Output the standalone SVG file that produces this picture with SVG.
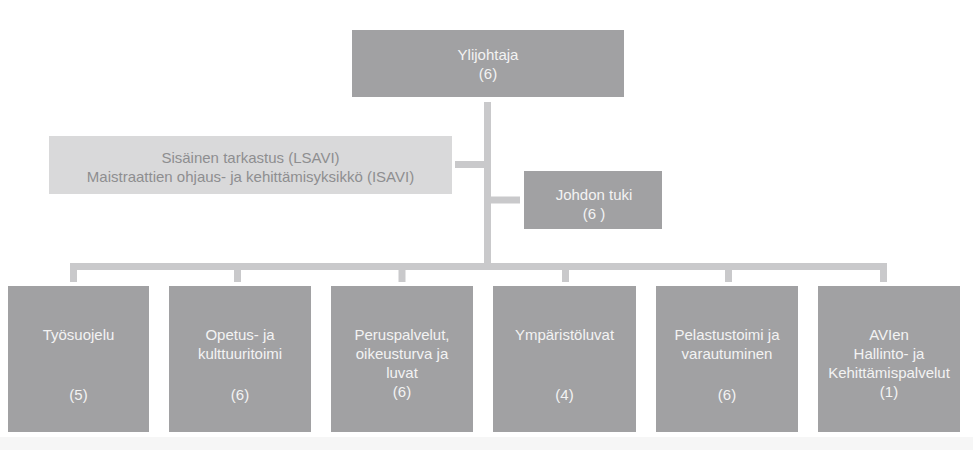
<svg xmlns="http://www.w3.org/2000/svg" width="973" height="450" viewBox="0 0 973 450">
  <style>
    .box { fill: #a1a1a3; }
    .side { fill: #d9d9da; }
    .lbl { font-family: "Liberation Sans", Arial, sans-serif; font-size: 15px; fill: #f3f3f3; text-anchor: middle; }
    .lbl-side { font-family: "Liberation Sans", Arial, sans-serif; font-size: 15px; fill: #8e8e90; text-anchor: middle; }
    .conn { fill: none; stroke: #c9c9cb; stroke-width: 7; stroke-linecap: butt; stroke-linejoin: miter; }
  </style>

  <rect x="0" y="0" width="973" height="450" fill="#ffffff"/>
  <rect x="0" y="437" width="973" height="13" fill="#f6f6f6"/>

  <!-- connectors -->
  <g id="connectors">
    <path class="conn" d="M487.5 102 V270"/>
    <path class="conn" d="M455 164.5 H487.5"/>
    <path class="conn" d="M487.5 200 H520"/>
    <path class="conn" d="M73.5 282 V266.5 H883.5 V282"/>
    <path class="conn" d="M237.5 266.5 V282"/>
    <path class="conn" d="M402 266.5 V282"/>
    <path class="conn" d="M565.5 266.5 V282"/>
    <path class="conn" d="M728.5 266.5 V282"/>
  </g>

  <!-- head of the agency -->
  <g id="ylijohtaja">
    <rect class="box" x="352" y="30" width="272" height="67"/>
    <text class="lbl" x="488" y="60">Ylijohtaja</text>
    <text class="lbl" x="488" y="79">(6)</text>
  </g>

  <!-- staff unit shown in light grey -->
  <g id="sisainen-tarkastus">
    <rect class="side" x="49" y="136" width="403" height="58"/>
    <text class="lbl-side" x="250.5" y="163">Sisäinen tarkastus (LSAVI)</text>
    <text class="lbl-side" x="250.5" y="182">Maistraattien ohjaus- ja kehittämisyksikkö (ISAVI)</text>
  </g>

  <g id="johdon-tuki">
    <rect class="box" x="524" y="171" width="138" height="58"/>
    <text class="lbl" x="594" y="200">Johdon tuki</text>
    <text class="lbl" x="594" y="219">(6 )</text>
  </g>

  <!-- areas of responsibility -->
  <g id="tyosuojelu">
    <rect class="box" x="8" y="286" width="141" height="146"/>
    <text class="lbl" x="78.5" y="340">Työsuojelu</text>
    <text class="lbl" x="78.5" y="400">(5)</text>
  </g>

  <g id="opetus">
    <rect class="box" x="169" y="286" width="142" height="146"/>
    <text class="lbl" x="240" y="340">Opetus- ja</text>
    <text class="lbl" x="240" y="359">kulttuuritoimi</text>
    <text class="lbl" x="240" y="400">(6)</text>
  </g>

  <g id="peruspalvelut">
    <rect class="box" x="331" y="286" width="142" height="146"/>
    <text class="lbl" x="402" y="340">Peruspalvelut,</text>
    <text class="lbl" x="402" y="359">oikeusturva ja</text>
    <text class="lbl" x="402" y="378">luvat</text>
    <text class="lbl" x="402" y="397">(6)</text>
  </g>

  <g id="ymparistoluvat">
    <rect class="box" x="493" y="286" width="143" height="146"/>
    <text class="lbl" x="564.5" y="340">Ympäristöluvat</text>
    <text class="lbl" x="564.5" y="400">(4)</text>
  </g>

  <g id="pelastustoimi">
    <rect class="box" x="656" y="286" width="142" height="146"/>
    <text class="lbl" x="727" y="340">Pelastustoimi ja</text>
    <text class="lbl" x="727" y="359">varautuminen</text>
    <text class="lbl" x="727" y="400">(6)</text>
  </g>

  <g id="hallintopalvelut">
    <rect class="box" x="818" y="286" width="142" height="146"/>
    <text class="lbl" x="889" y="340">AVIen</text>
    <text class="lbl" x="889" y="359">Hallinto- ja</text>
    <text class="lbl" x="889" y="378">Kehittämispalvelut</text>
    <text class="lbl" x="889" y="397">(1)</text>
  </g>
</svg>
